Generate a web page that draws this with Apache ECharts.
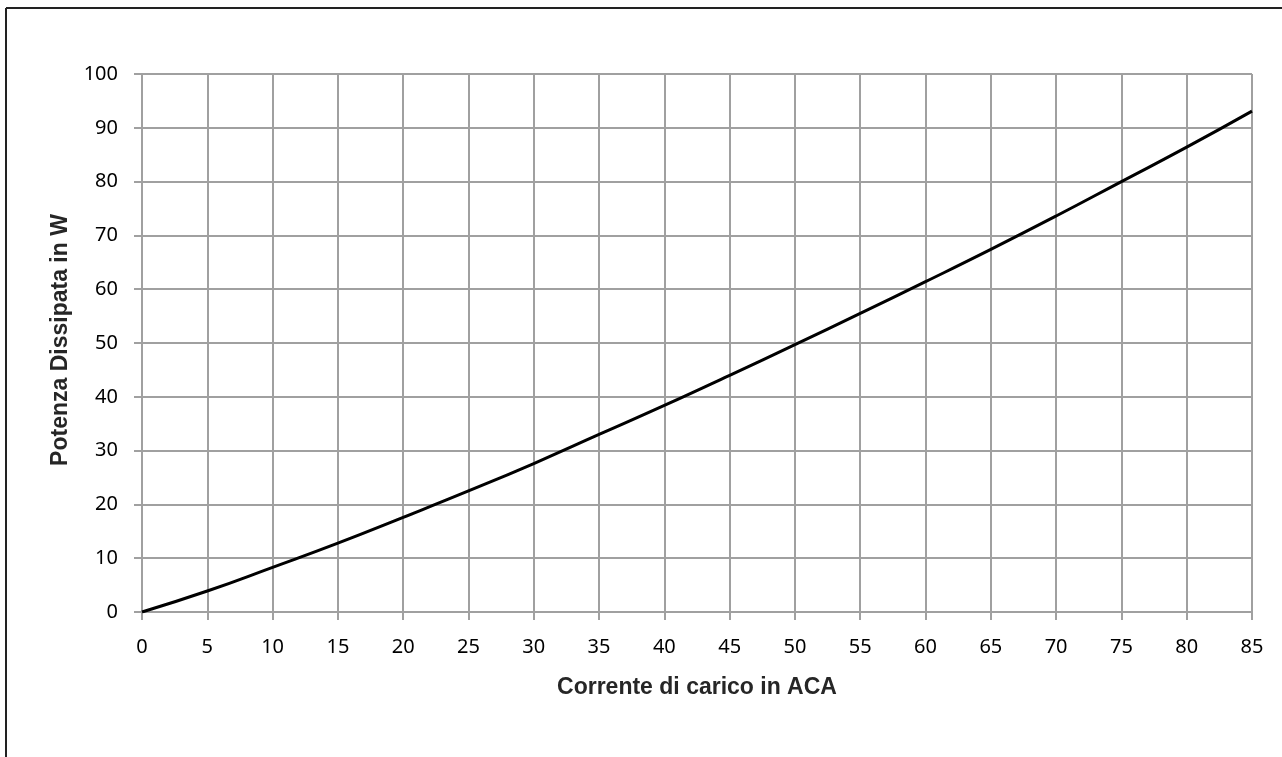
<!DOCTYPE html>
<html>
<head>
<meta charset="utf-8">
<script src="https://cdn.jsdelivr.net/npm/echarts@6/dist/echarts.min.js"></script>
<style>
html,body{margin:0;padding:0;background:#fff;}
#chart{width:1282px;height:757px;}
</style>
</head>
<body>
<div id="chart"></div>
<script>
var xValues = [0, 5, 10, 15, 20, 25, 30, 35, 40, 45, 50, 55, 60, 65, 70, 75, 80, 85];
var powerValues = [0, 3.9, 8.3, 12.8, 17.6, 22.5, 27.6, 33.0, 38.4, 44.0, 49.7, 55.5, 61.4, 67.4, 73.6, 80.0, 86.4, 93.1];
var xTitle = 'Corrente di carico in ACA';
var yTitle = 'Potenza Dissipata in W';

var seriesData = xValues.map(function (x, i) { return [x, powerValues[i]]; });
var gridColor = '#a0a0a0';
var titleFont = { fontFamily: 'Liberation Sans', fontWeight: 'bold', fontSize: 23, fill: '#262626', align: 'center', verticalAlign: 'middle' };
var chart = echarts.init(document.getElementById('chart'));
chart.setOption({
  animation: false,
  backgroundColor: '#fff',
  grid: { left: 142, right: 30, top: 74, bottom: 145, containLabel: false },
  xAxis: {
    type: 'value', min: 0, max: 85, interval: 5,
    axisLine: { show: true, lineStyle: { color: gridColor, width: 2 } },
    axisTick: { show: true, length: 8, lineStyle: { color: gridColor, width: 2 } },
    axisLabel: { margin: 25, fontFamily: 'Noto Sans', fontSize: 20, color: '#000' },
    splitLine: { show: true, lineStyle: { color: gridColor, width: 2 } }
  },
  yAxis: {
    type: 'value', min: 0, max: 100, interval: 10,
    axisLine: { show: true, lineStyle: { color: gridColor, width: 2 } },
    axisTick: { show: true, length: 8, lineStyle: { color: gridColor, width: 2 } },
    axisLabel: { margin: 24, fontFamily: 'Noto Sans', fontSize: 20, color: '#000' },
    splitLine: { show: true, lineStyle: { color: gridColor, width: 2 } }
  },
  series: [{
    type: 'line', data: seriesData, smooth: true, symbol: 'none',
    lineStyle: { color: '#000', width: 3 }
  }],
  graphic: [
    { type: 'line', shape: { x1: 6, y1: 8, x2: 1282, y2: 8 }, style: { stroke: '#222', lineWidth: 2 } },
    { type: 'line', shape: { x1: 6, y1: 8, x2: 6, y2: 757 }, style: { stroke: '#222', lineWidth: 2 } },
    { type: 'text', x: 697, y: 688, style: Object.assign({ text: xTitle }, titleFont) },
    { type: 'text', x: 61, y: 340, rotation: Math.PI / 2, style: Object.assign({ text: yTitle }, titleFont) }
  ]
});
</script>
</body>
</html>
